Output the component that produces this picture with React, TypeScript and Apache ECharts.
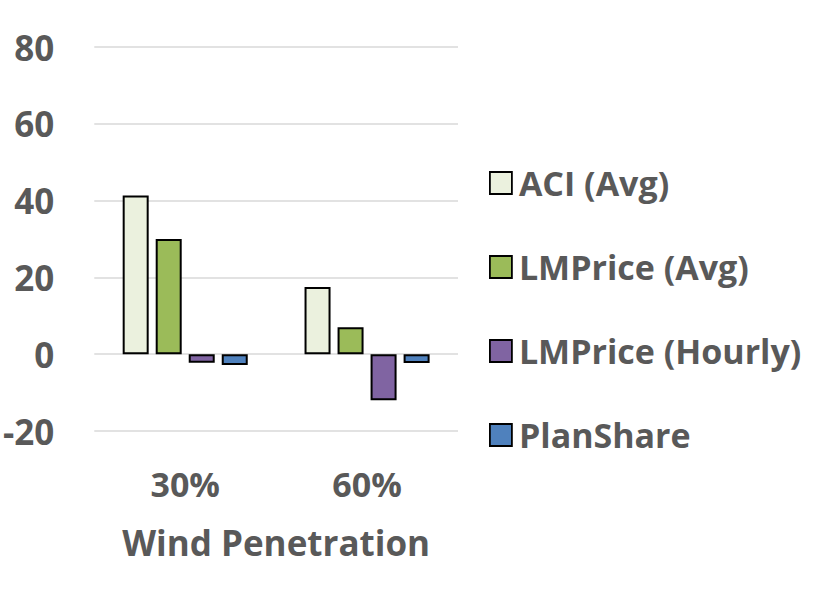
import React, { useEffect, useRef } from "react";
import * as echarts from "echarts";

const categories = ["30%", "60%"];
const seriesNames = ["ACI (Avg)", "LMPrice (Avg)", "LMPrice (Hourly)", "PlanShare"];
const aciAvg = [41.3, 17.5];
const lmpAvg = [30, 7];
const lmpHourly = [-2.2, -12];
const planShare = [-2.8, -2.3];
const colors = ["#EBF1DE", "#9BBB59", "#8064A2", "#4F81BD"];
const yTicks = { min: -20, max: 80, interval: 20 };

const FONT = "'Open Sans', 'Noto Sans', sans-serif";
const GREY = "#595959";

export default function App() {
  const ref = useRef<HTMLDivElement>(null);
  useEffect(() => {
    if (!ref.current) return;
    const chart = echarts.init(ref.current, undefined, { renderer: "svg" });
    const values = [aciAvg, lmpAvg, lmpHourly, planShare];
    chart.setOption({
      animation: false,
      backgroundColor: "#ffffff",
      textStyle: { fontFamily: FONT },
      grid: { left: 93, right: 373, top: 47, bottom: 163, containLabel: false },
      legend: {
        orient: "vertical",
        left: 484,
        top: 161,
        itemWidth: 22,
        itemHeight: 22,
        itemGap: 50,
        icon: "rect",
        data: seriesNames,
        itemStyle: { borderColor: "#000000", borderWidth: 1.8 },
        textStyle: {
          fontFamily: FONT,
          fontSize: 34,
          fontWeight: "bold",
          color: GREY,
          padding: [0, 0, 0, 2],
        },
      },
      xAxis: {
        type: "category",
        data: categories,
        axisLine: { show: false, onZero: false },
        axisTick: { show: false },
        axisLabel: {
          margin: 36,
          fontFamily: FONT,
          fontSize: 34,
          fontWeight: "bold",
          color: GREY,
        },
        name: "Wind Penetration",
        nameLocation: "middle",
        nameGap: 94,
        nameTextStyle: {
          fontFamily: FONT,
          fontSize: 35,
          fontWeight: "bold",
          color: GREY,
        },
      },
      yAxis: {
        type: "value",
        min: yTicks.min,
        max: yTicks.max,
        interval: yTicks.interval,
        axisLine: { show: false },
        axisTick: { show: false },
        splitLine: { lineStyle: { color: "#D9D9D9", width: 1.5 } },
        axisLabel: {
          margin: 40,
          fontFamily: FONT,
          fontSize: 35,
          fontWeight: "bold",
          color: GREY,
        },
      },
      series: seriesNames.map((name, i) => ({
        name,
        type: "bar",
        data: values[i],
        barWidth: 26,
        barGap: "27%",
        barCategoryGap: "31%",
        itemStyle: { color: colors[i], borderColor: "#000000", borderWidth: 2 },
      })),
    });
    return () => chart.dispose();
  }, []);
  return (
    <div
      ref={ref}
      style={{ position: "fixed", left: 0, top: 0, width: 831, height: 594 }}
    />
  );
}
